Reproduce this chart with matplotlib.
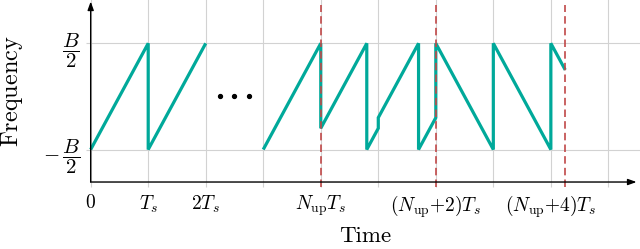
import matplotlib
matplotlib.use("Agg")
import matplotlib.pyplot as plt

plt.rcParams['mathtext.fontset'] = 'cm'
plt.rcParams['font.family'] = ['DejaVu Serif']

# ---- data (time in units of T_s, frequency in units of B) ----
up1_t = [0, 1, 1, 2]
up1_f = [-0.5, 0.5, -0.5, 0.5]
dots_t = [2.25, 2.5, 2.75]
dots_f = [0.0, 0.0, 0.0]
sig_t = [3, 4, 4, 4.8, 4.8, 5, 5, 5.7, 5.7, 6, 6, 7, 7, 8, 8, 8.25]
sig_f = [-0.5, 0.5, -0.3, 0.5, -0.5, -0.3, -0.2, 0.5, -0.5, -0.2, 0.5, -0.5, 0.5, -0.5, 0.5, 0.25]
marker_t = [4, 6, 8.25]
xtick_pos = list(range(10))
xtick_labels = [r'$0$', r'$T_s$', r'$2T_s$', '', r'$N_{\mathrm{up}}T_s$', '',
                r'$(N_{\mathrm{up}}{+}2)T_s$', '', r'$(N_{\mathrm{up}}{+}4)T_s$', '']
ytick_pos = [-0.5, 0.5]
ytick_labels = [r'$-\,\dfrac{B}{2}$', r'$\dfrac{B}{2}$']

teal = '#00a99a'
red = '#c04848'
grid_c = '#d2d2d2'

fig = plt.figure(figsize=(6.4, 2.49), dpi=100)
ax = fig.add_axes([0.1417, 0.269, 0.8583, 0.731])
xlim = (0, 9.55)
ylim = (-0.806, 0.908)
ax.set_xlim(*xlim)
ax.set_ylim(*ylim)

for s in ax.spines.values():
    s.set_visible(False)

ax.set_xticks(xtick_pos)
ax.set_xticklabels(xtick_labels, fontsize=14)
ax.set_yticks(ytick_pos)
ax.set_yticklabels(ytick_labels, fontsize=15)
ax.tick_params(axis='both', colors=grid_c, length=3.6, width=0.8, labelcolor='black')
ax.tick_params(axis='x', pad=5)
ax.tick_params(axis='y', pad=4)
ax.grid(True, color=grid_c, linewidth=0.8, zorder=0)

# axes with arrows
ax.annotate('', xy=(9.49, ylim[0]), xytext=(0, ylim[0]),
            arrowprops=dict(arrowstyle='-|>,head_length=0.5,head_width=0.18', color='black', lw=1.0,
                            shrinkA=0, shrinkB=0), annotation_clip=False, zorder=5)
ax.annotate('', xy=(0, 0.894), xytext=(0, ylim[0]),
            arrowprops=dict(arrowstyle='-|>,head_length=0.5,head_width=0.18', color='black', lw=1.0,
                            shrinkA=0, shrinkB=0), annotation_clip=False, zorder=5)

ax.plot(up1_t, up1_f, color=teal, lw=2.3, solid_joinstyle='miter', solid_capstyle='butt', zorder=3, clip_on=False)
ax.plot(sig_t, sig_f, color=teal, lw=2.3, solid_joinstyle='miter', solid_capstyle='butt', zorder=3, clip_on=False)
ax.plot(dots_t, dots_f, 'o', color='black', ms=2.8, zorder=3)

for t in marker_t:
    ax.plot([t, t], [-0.85, 0.86], color=red, lw=1.2, ls=(0, (4.5, 2.5)), zorder=4, clip_on=False)

ax.set_xlabel('Time', fontsize=16.5, labelpad=4.5, family='cmr10')
ax.set_ylabel(r'$\mathrm{Frequency}$', fontsize=17.5, labelpad=13)

fig.savefig('out.png', dpi=100)
